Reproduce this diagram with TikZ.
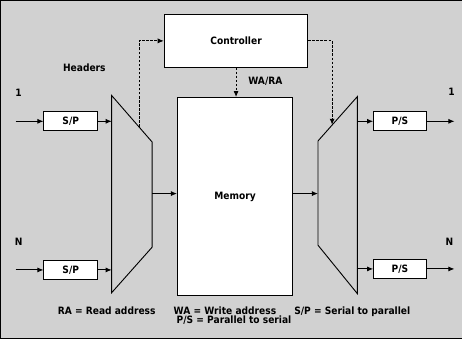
\documentclass[tikz,border=0pt]{standalone}
\usepackage{fontspec}
\setmainfont{DejaVu Sans}[FakeStretch=0.9]
\usetikzlibrary{arrows.meta}
\begin{document}
\begin{tikzpicture}[x=1pt,y=-1pt,
  font=\bfseries\fontsize{10}{10}\selectfont,
  arr/.style={-{Latex[length=6pt,width=5pt]}, line width=0.9pt},
  dsh/.style={dash pattern=on 2.5pt off 1.5pt},
  box/.style={draw, line width=0.9pt, fill=white, inner sep=0pt},
  mux/.style={draw, line width=0.9pt, fill=bgc},
  lbl/.style={inner sep=0pt}]
\definecolor{bgc}{gray}{0.82}
\fill[bgc] (5,3) rectangle (461,337);
\draw[line width=0.9pt] (461,3) -- (5,3) -- (5,337) -- (461,337);
% boxes
\node[box, minimum width=142pt, minimum height=52pt] (ctrl) at (238,43) {Controller};
\node[box, minimum width=114pt, minimum height=196pt] (mem) at (237,197) {Memory};
\node[box, minimum width=53pt, minimum height=19pt] (sp1) at (74.5,122.5) {S/P};
\node[box, minimum width=53pt, minimum height=19pt] (spN) at (74.5,269.5) {S/P};
\node[box, minimum width=52pt, minimum height=19pt] (ps1) at (400,122.5) {P/S};
\node[box, minimum width=52pt, minimum height=19pt] (psN) at (400,268.5) {P/S};
% muxes
\draw[mux] (115,97) -- (155,143) -- (155,247) -- (115,292) -- cycle;
\draw[mux] (358,98) -- (319,142) -- (319,245) -- (358,293) -- cycle;
\coordinate (lmA) at (115,122.5);
\coordinate (lmB) at (115,269.5);
\coordinate (lmout) at (155,194);
\coordinate (lmdash) at (142,128);
\coordinate (rmin) at (319,194);
\coordinate (rmA) at (358,122.5);
\coordinate (rmB) at (358,268.5);
\coordinate (rmdash) at (333,126);
\coordinate (in1) at (20,122.5);
\coordinate (inN) at (20,269.5);
\coordinate (out1) at (454,122.5);
\coordinate (outN) at (454,268.5);
% connectors
\draw[arr] (in1) -- (sp1.west);
\draw[arr] (inN) -- (spN.west);
\draw[arr] (sp1.east) -- (lmA);
\draw[arr] (spN.east) -- (lmB);
\draw[arr] (lmout) -- (lmout -| mem.west);
\draw[arr] (rmin -| mem.east) -- (rmin);
\draw[arr] (rmA) -- (ps1.west);
\draw[arr] (rmB) -- (psN.west);
\draw[arr] (ps1.east) -- (out1);
\draw[arr] (psN.east) -- (outN);
\draw[arr,dsh] (lmdash) |- (ctrl.west);
\draw[arr,dsh] (ctrl.east) -| (rmdash);
\draw[arr,dsh] (ctrl.south) -- (ctrl.south |- mem.north);
% labels
\node[lbl] (hdr) at (88,70) {Headers};
\node[lbl] (l1) at (23,94) {1};
\node[lbl] (lN) at (23,242) {N};
\node[lbl] (r1) at (451,93) {1};
\node[lbl] (rN) at (449,242) {N};
\node[lbl] (wara) at (267,83) {WA/RA};
\node[lbl, align=center] (cap) at (236,315) {RA = Read address\hspace{18pt}WA = Write address\hspace{18pt}S/P = Serial to parallel\\[-1pt]P/S = Parallel to serial};
\end{tikzpicture}
\end{document}
